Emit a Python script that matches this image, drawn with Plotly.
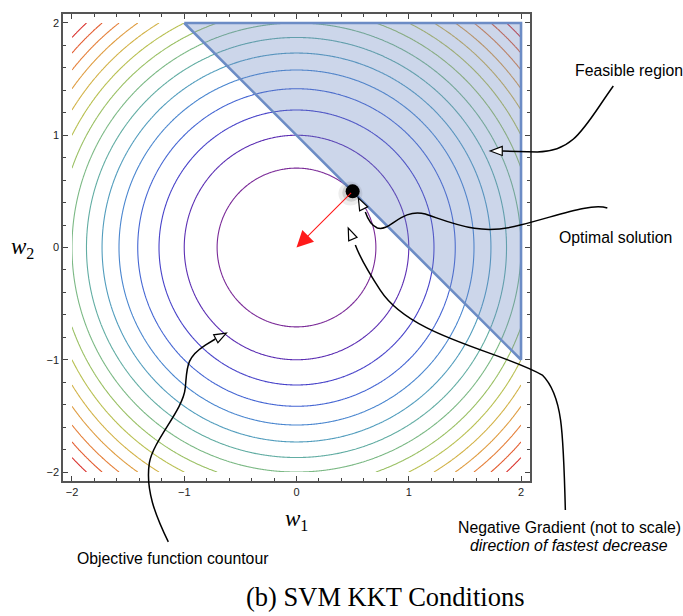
import numpy as np
import plotly.graph_objects as go

# ---- data -------------------------------------------------------------
# objective f(w) = w1^2 + w2^2, contour levels
levels = [0.5, 1.0, 1.5, 2.0, 2.5, 3.0, 3.5, 4.0, 4.5, 5.0, 5.5, 6.0, 6.5, 7.0, 7.5]
level_colors = ["#7b2b98", "#5c2fb3", "#4742c9", "#4566d3", "#4a86cf", "#529dbd",
                "#62ada3", "#7cb985", "#9ac064", "#b9c052", "#d2b247", "#df9c40",
                "#e57f39", "#e35d31", "#d9302b"]
# feasible region w1 + w2 >= 1 inside the box
region_w1 = [-1.0, 2.0, 2.0, -1.0]
region_w2 = [2.0, 2.0, -1.0, 2.0]
# optimum and gradient target
opt_w1, opt_w2 = 0.5, 0.5
origin_w1, origin_w2 = 0.0, 0.0
tick_vals = [-2, -1, 0, 1, 2]
box = [-2.0, 2.0]

LO, HI = -2.08, 2.08
SPAN = HI - LO
PX = 467 / SPAN  # pixels per axis unit

grid = np.linspace(box[0], box[1], 401)
W1, W2 = np.meshgrid(grid, grid)
Z = W1 ** 2 + W2 ** 2

n = len(levels)
colorscale = [[i / (n - 1), c] for i, c in enumerate(level_colors)]

fig = go.Figure()

fig.add_trace(go.Contour(x=grid, y=grid, z=Z, zmin=levels[0], zmax=levels[-1],
                         zauto=False, colorscale=colorscale, showscale=False,
                         contours=dict(start=levels[0], end=levels[-1],
                                       size=levels[1] - levels[0], coloring="lines"),
                         line=dict(width=1.1), hoverinfo="skip"))

# feasible region: translucent fill and border
fig.add_trace(go.Scatter(x=region_w1, y=region_w2, mode="lines", fill="toself",
                         fillcolor="rgba(100,130,190,0.33)",
                         line=dict(color="#6c8cc5", width=2.6), hoverinfo="skip",
                         showlegend=False))

# optimum with soft shadow
fig.add_trace(go.Scatter(x=[opt_w1 - 0.02], y=[opt_w2 - 0.02], mode="markers",
                         marker=dict(size=24, color="rgba(0,0,0,0.07)"),
                         hoverinfo="skip", showlegend=False))
fig.add_trace(go.Scatter(x=[opt_w1 - 0.012], y=[opt_w2 - 0.012], mode="markers",
                         marker=dict(size=18, color="rgba(0,0,0,0.12)"),
                         hoverinfo="skip", showlegend=False))
fig.add_trace(go.Scatter(x=[opt_w1], y=[opt_w2], mode="markers",
                         marker=dict(size=14, color="black"),
                         hoverinfo="skip", showlegend=False))

# negative gradient arrow
fig.add_annotation(x=origin_w1, y=origin_w2, ax=opt_w1, ay=opt_w2, xref="x", yref="y",
                   axref="x", ayref="y", text="", showarrow=True, arrowhead=2,
                   arrowsize=3.0, arrowwidth=1.1, arrowcolor="#ff1a1a", standoff=0)


def pap(x, y):
    return (x - LO) / SPAN, (y - LO) / SPAN


def bezier_path(points):
    # points: start, then groups of three (c1, c2, end)
    x0, y0 = pap(*points[0])
    s = f"M {x0:.4f},{y0:.4f}"
    rest = points[1:]
    for i in range(0, len(rest), 3):
        seg = [pap(*p) for p in rest[i:i + 3]]
        s += " C " + " ".join(f"{a:.4f},{b:.4f}" for a, b in seg)
    return s


def arrow_head(base, tip, length=12, half=4.5):
    bx, by = base
    tx, ty = tip
    d = np.hypot(tx - bx, ty - by)
    ux, uy = (tx - bx) / d, (ty - by) / d
    L, H = length / PX, half / PX
    back = (tx - ux * L, ty - uy * L)
    p1 = (back[0] - uy * H, back[1] + ux * H)
    p2 = (back[0] + uy * H, back[1] - ux * H)
    pts = [pap(*tip), pap(*p1), pap(*p2)]
    return "M " + " L ".join(f"{a:.4f},{b:.4f}" for a, b in pts) + " Z"


callouts = [
    # feasible region
    ([(2.822, 1.439), (2.572, 1.091), (2.483, 0.851), (2.145, 0.851)],
     (2.145, 0.851), (1.833, 0.860), (1.726, 0.860)),
    # optimal solution
    ([(2.769, 0.352), (2.617, 0.396), (2.350, 0.290), (1.994, 0.200),
      (1.637, 0.102), (1.415, 0.209), (1.148, 0.298),
      (0.925, 0.352), (0.836, 0.138), (0.720, 0.174),
      (0.657, 0.200), (0.631, 0.263), (0.613, 0.316)],
     None, (0.613, 0.316), (0.551, 0.441)),
    # negative gradient
    ([(2.395, -2.338), (2.377, -1.626), (2.368, -1.314), (2.190, -1.136),
      (1.815, -0.920), (1.020, -0.800), (0.746, -0.379),
      (0.640, -0.218), (0.568, -0.094), (0.524, 0.022)],
     None, (0.524, 0.022), (0.461, 0.174)),
    # objective contour
    ([(-1.142, -2.623), (-1.258, -2.383), (-1.347, -2.160), (-1.311, -1.919),
      (-1.276, -1.715), (-1.008, -1.447), (-0.991, -1.251),
      (-0.973, -1.073), (-0.991, -0.984), (-0.812, -0.869)],
     (-0.812, -0.869), (-0.723, -0.815), (-0.625, -0.762)),
]

for pts, line_from, base, tip in callouts:
    path = bezier_path(pts)
    if line_from is not None:
        bx, by = pap(*base)
        path += f" L {bx:.4f},{by:.4f}"
    fig.add_shape(type="path", path=path, xref="paper", yref="paper",
                  line=dict(color="black", width=1.5), layer="above")
    fig.add_shape(type="path", path=arrow_head(base, tip), xref="paper", yref="paper",
                  line=dict(color="black", width=1.2), fillcolor="white", layer="above")

sans = "Liberation Sans"
texts = [
    ("Feasible region", 2.466, 1.581, "left", dict(family=sans, size=15.8)),
    ("Optimal solution", 2.324, 0.085, "left", dict(family=sans, size=15.8)),
    ("Negative Gradient (not to scale)", 2.430, -2.490, "center", dict(family=sans, size=15.8)),
    ("<i>direction of fastest decrease</i>", 2.430, -2.659, "center", dict(family=sans, size=15.8)),
    ("Objective function countour", -1.970, -2.766, "left", dict(family=sans, size=15.8)),
    ("<i>w</i><sub>1</sub>", 0.0, -2.427, "center", dict(family="Liberation Serif", size=23)),
    ("<i>w</i><sub>2</sub>", -2.443, 0.0, "center", dict(family="Liberation Serif", size=23)),
    ("(b) SVM KKT Conditions", 0.792, -3.113, "center", dict(family="Liberation Serif", size=26.5)),
]
for txt, x, y, anchor, font in texts:
    px_, py_ = pap(x, y)
    fig.add_annotation(x=px_, y=py_, xref="paper", yref="paper", text=txt,
                       showarrow=False, xanchor=anchor, yanchor="middle",
                       font=dict(color="black", **font))

axis_common = dict(range=[LO, HI], tickvals=tick_vals, ticks="inside", ticklen=5,
                   tickwidth=1, tickcolor="#444", showgrid=False, zeroline=False,
                   showline=True, linecolor="#555", linewidth=1.5, mirror="ticks",
                   tickfont=dict(family=sans, size=11, color="#222"),
                   minor=dict(dtick=0.2, ticks="inside", ticklen=3, tickcolor="#444",
                              showgrid=False))

fig.update_xaxes(**axis_common)
fig.update_yaxes(**axis_common)

fig.update_layout(width=683, height=616, margin=dict(l=63, r=153, t=14, b=135),
                  plot_bgcolor="white", paper_bgcolor="white", showlegend=False)

fig.write_html("out.html")
